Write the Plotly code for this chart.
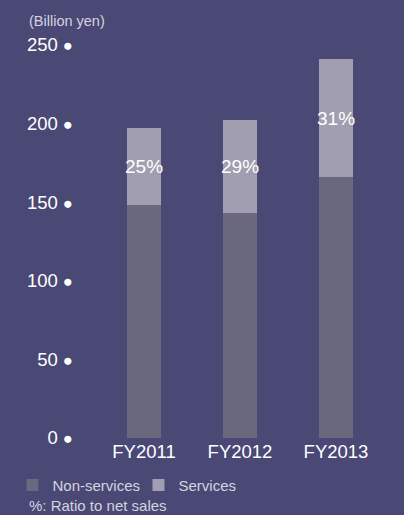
import plotly.graph_objects as go

categories = ["FY2011", "FY2012", "FY2013"]
non_services = [148, 143, 166]
services = [49, 59, 75]
ratio_labels = ["25%", "29%", "31%"]
tick_vals = [0, 50, 100, 150, 200, 250]

BG = "#4a4874"
C_NON = "#6a687e"
C_SRV = "#a09eb0"
FONT = "Liberation Sans, Arial, Helvetica, sans-serif"

fig = go.Figure()
fig.add_trace(go.Bar(x=categories, y=non_services, name="Non-services",
                     marker=dict(color=C_NON, line=dict(width=0)), width=0.344))
fig.add_trace(go.Bar(x=categories, y=services, name="Services",
                     marker=dict(color=C_SRV, line=dict(width=0)), width=0.344))

for c, n, s, lab in zip(categories, non_services, services, ratio_labels):
    fig.add_annotation(x=c, y=n + s / 2, text=lab, showarrow=False,
                       font=dict(family=FONT, size=19, color="white"))

fig.add_annotation(xref="paper", yref="paper", x=-0.239, y=1.0, yshift=24,
                   xanchor="left", yanchor="middle", text="(Billion yen)",
                   showarrow=False, font=dict(family=FONT, size=14.5, color="#d4d3e0"))
fig.add_annotation(xref="paper", yref="paper", x=-0.239, y=0, yshift=-67,
                   xanchor="left", yanchor="middle", text="%: Ratio to net sales",
                   showarrow=False, font=dict(family=FONT, size=15, color="#d4d3e0"))

fig.update_layout(
    width=404, height=515,
    paper_bgcolor=BG, plot_bgcolor=BG,
    barmode="stack",
    margin=dict(l=96, r=20, t=45, b=77),
    font=dict(family=FONT, color="white"),
    showlegend=True,
    legend=dict(orientation="h", x=-0.29, xanchor="left", y=-0.12, yanchor="middle",
                yref="paper", xref="paper",
                font=dict(family=FONT, size=15, color="#d4d3e0"),
                bgcolor="rgba(0,0,0,0)", traceorder="normal",
                entrywidth=81, entrywidthmode="pixels"),
    xaxis=dict(showgrid=False, showline=False, zeroline=False, ticks="",
               tickfont=dict(family=FONT, size=18.5, color="white"),
               range=[-0.5, 2.5]),
    yaxis=dict(range=[0, 250], showgrid=False, showline=False, zeroline=False,
               ticks="", tickvals=tick_vals,
               ticktext=[f"{v} <span style='font-size:16.5px'>●</span>" for v in tick_vals],
               tickfont=dict(family=FONT, size=18.5, color="white"),
               ticklabelstandoff=22),
)

fig.write_html(
    "out.html",
    config={"displayModeBar": False},
    post_script="document.body.style.margin='0';document.body.style.background='#4a4874';",
)
